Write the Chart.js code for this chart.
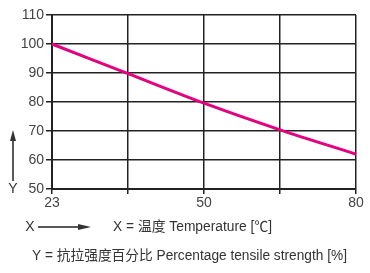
<!DOCTYPE html>
<html><head><meta charset="utf-8">
<script src="https://cdn.jsdelivr.net/npm/chart.js@4/dist/chart.umd.min.js"></script>
<style>html,body{margin:0;padding:0;background:#fff}#w{width:370px;height:273px}</style>
</head><body><div id="w"><canvas id="c" width="370" height="273"></canvas></div>
<script>
const categories = ["23", "", "50", "", "80"];
const strength = [100, 89.8, 79.6, 70.4, 62];
const yTicks = [50, 60, 70, 80, 90, 100, 110];
const xAxisText = "X = 温度 Temperature [℃]";
const yAxisText = "Y = 抗拉强度百分比 Percentage tensile strength [%]";

const FONT = '"Liberation Sans Narrow","Liberation Sans",Arial,sans-serif';
const GRID = '#222';

const annot = {
  id: 'annot',
  afterDraw(chart) {
    const ctx = chart.ctx;
    ctx.save();
    ctx.fillStyle = '#333';
    ctx.strokeStyle = '#222';
    ctx.textBaseline = 'middle';
    ctx.font = '14px ' + FONT;
    // Y arrow
    ctx.lineWidth = 1.5;
    ctx.beginPath(); ctx.moveTo(13, 181); ctx.lineTo(13, 137); ctx.stroke();
    ctx.beginPath(); ctx.moveTo(13, 130); ctx.lineTo(10, 141); ctx.lineTo(16, 141); ctx.closePath(); ctx.fill();
    ctx.textAlign = 'center';
    ctx.fillText('Y', 13, 189);
    // X arrow
    ctx.fillText('X', 30, 227);
    ctx.beginPath(); ctx.moveTo(38, 227); ctx.lineTo(82, 227); ctx.stroke();
    ctx.beginPath(); ctx.moveTo(91, 227); ctx.lineTo(78, 224); ctx.lineTo(78, 230); ctx.closePath(); ctx.fill();
    ctx.textAlign = 'left';
    ctx.font = '14px ' + FONT + ',"Noto Sans CJK SC"';
    ctx.fillText(xAxisText, 113, 227, 159);
    ctx.fillText(yAxisText, 32, 256, 315);
    ctx.restore();
  }
};

new Chart(document.getElementById('c'), {
  type: 'line',
  data: {
    labels: categories,
    datasets: [{
      data: strength,
      borderColor: '#E5007D',
      borderWidth: 3,
      pointRadius: 0,
      tension: 0.3,
      cubicInterpolationMode: 'monotone',
      fill: false
    }]
  },
  options: {
    responsive: false,
    animation: false,
    devicePixelRatio: 1,
    layout: { padding: { top: 15, right: 14, left: 0, bottom: 64 } },
    plugins: { legend: { display: false }, tooltip: { enabled: false } },
    scales: {
      x: {
        type: 'category',
        offset: false,
        afterFit(s) { s.height = 20; },
        grid: { color: GRID, lineWidth: 1.5, tickLength: 5, drawTicks: true },
        border: { color: GRID, width: 2 },
        ticks: { color: '#444', font: { size: 14, family: FONT }, padding: 1, maxRotation: 0, autoSkip: false }
      },
      y: {
        min: 50, max: 110,
        afterFit(s) { s.width = 52; },
        afterBuildTicks(s) { s.ticks = yTicks.map(v => ({ value: v })); },
        grid: { color: GRID, lineWidth: 1.5, tickLength: 6 },
        border: { color: GRID, width: 2 },
        ticks: { color: '#444', font: { size: 14, family: FONT }, padding: 2 }
      }
    }
  },
  plugins: [annot]
});
</script></body></html>
